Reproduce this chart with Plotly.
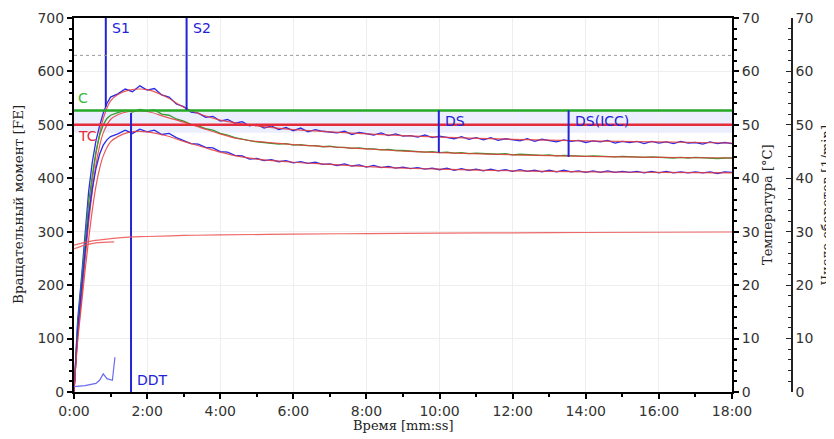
import plotly.graph_objects as go

# ---------------- data ----------------
# time in minutes for the raw (noisy) torque traces
T_RAW = [0, 0.05, 0.1, 0.2, 0.3, 0.4, 0.5, 0.6, 0.7, 0.8, 0.9, 1.0,
         1.2, 1.4, 1.6, 1.8, 2.0, 2.2, 2.4, 2.6, 2.8, 3.0,
         3.2, 3.4, 3.6, 3.8, 4.0, 4.2, 4.4, 4.6, 4.8, 5.0,
         5.2, 5.4, 5.6, 5.8, 6.0, 6.2, 6.4, 6.6, 6.8, 7.0,
         7.2, 7.4, 7.6, 7.8, 8.0, 8.2, 8.4, 8.6, 8.8, 9.0,
         9.2, 9.4, 9.6, 9.8, 10.0, 10.2, 10.4, 10.6, 10.8, 11.0,
         11.2, 11.4, 11.6, 11.8, 12.0, 12.2, 12.4, 12.6, 12.8, 13.0,
         13.2, 13.4, 13.6, 13.8, 14.0, 14.2, 14.4, 14.6, 14.8, 15.0,
         15.2, 15.4, 15.6, 15.8, 16.0, 16.2, 16.4, 16.6, 16.8, 17.0,
         17.2, 17.4, 17.6, 17.8, 18.0]

UPPER_RAW = [0, 70, 135, 210, 290, 375, 430, 470, 498, 522, 540, 552,
             558, 567, 562, 573, 565, 568, 556, 552, 539, 534,
             524, 522, 514, 516, 507, 510, 503, 506, 498, 501,
             494, 498, 491, 495, 489, 494, 487, 491, 488, 486,
             485, 488, 482, 486, 484, 481, 485, 480, 483, 479,
             480, 477, 481, 476, 479, 477, 474, 478, 473, 476,
             472, 476, 471, 474, 472, 470, 474, 469, 473, 471,
             468, 472, 469, 471, 467, 470, 468, 471, 466, 469,
             467, 469, 465, 469, 466, 468, 465, 469, 466, 467,
             464, 468, 465, 467, 465]

MIDDLE_RAW = [0, 60, 125, 200, 280, 355, 405, 450, 480, 500, 512, 518,
              523, 527, 524, 529, 526, 528, 520, 518, 511, 507,
              501, 498, 493, 490, 484, 481, 476, 473, 470, 468,
              467, 466, 464, 465, 462, 463, 461, 461, 459, 460,
              458, 458, 456, 457, 455, 455, 453, 454, 452, 452,
              451, 451, 449, 450, 448, 449, 447, 448, 446, 447,
              446, 446, 445, 446, 444, 445, 444, 444, 443, 444,
              442, 443, 442, 442, 441, 442, 441, 441, 440, 441,
              440, 440, 439, 440, 439, 439, 438, 439, 438, 439,
              438, 438, 437, 438, 438]

LOWER_RAW = [0, 55, 115, 190, 265, 330, 380, 418, 445, 462, 472, 478,
             483, 490, 484, 492, 487, 490, 482, 484, 476, 471,
             465, 464, 458, 457, 450, 449, 443, 442, 436, 437,
             433, 435, 431, 433, 429, 431, 428, 430, 426, 427,
             424, 427, 423, 425, 421, 424, 420, 422, 419, 421,
             418, 420, 417, 419, 416, 419, 415, 418, 415, 417,
             414, 417, 414, 416, 413, 416, 413, 415, 412, 415,
             412, 415, 412, 414, 411, 414, 411, 414, 411, 413,
             411, 413, 410, 413, 410, 413, 410, 412, 410, 412,
             410, 412, 409, 412, 411]

# smoothed (fitted) curves
T_FIT = [0, 0.1, 0.2, 0.3, 0.4, 0.5, 0.6, 0.7, 0.8, 1.0, 1.2, 1.5, 2.0, 2.5,
         3.0, 3.5, 4.0, 4.5, 5.0, 6.0, 7.0, 8.0, 9.0, 10.0, 12.0, 14.0, 16.0, 18.0]
UPPER_FIT = [0, 110, 180, 255, 330, 395, 445, 483, 512, 545, 557, 565, 566, 553,
             533, 519, 509, 503, 498, 491, 487, 483, 480, 477, 473, 470, 468, 466]
MIDDLE_FIT = [0, 100, 170, 245, 315, 375, 425, 460, 485, 510, 519, 525, 525, 515,
              505, 494, 483, 474, 469, 463, 459, 455, 451, 448, 444, 441, 439, 438]
LOWER_FIT = [0, 95, 160, 225, 285, 340, 385, 418, 442, 468, 478, 486, 487, 480,
             469, 459, 449, 441, 436, 430, 426, 422, 419, 417, 414, 412, 411, 410]

# temperatures [°C]
T_TEMP = [0, 0.5, 1.0, 1.5, 2.0, 3.0, 4.0, 6.0, 8.0, 10.0, 12.0, 14.0, 16.0, 18.0]
TEMP_A = [27.5, 28.3, 28.7, 29.0, 29.1, 29.3, 29.4, 29.55, 29.65, 29.75, 29.8, 29.85, 29.9, 29.95]
T_TEMP_B = [0, 0.3, 0.6, 1.1]
TEMP_B = [26.8, 27.5, 27.9, 28.1]

# rotation speed [1/min]
T_SPEED = [0, 18]
SPEED = [63, 63]

# small auxiliary trace near the bottom
T_AUX = [0, 0.3, 0.6, 0.7, 0.8, 0.9, 1.05, 1.12]
AUX = [10, 12, 16, 22, 34, 25, 22, 65]

# reference levels
C_LEVEL = 527
TC_LEVEL = 500
BAND = [485, 527]

# event markers: (label, time, y from, y to)
MARK_LABELS = ["S1", "S2", "DDT", "DS", "DS(ICC)"]
MARK_TIMES = [0.87, 3.08, 1.56, 9.98, 13.53]
MARK_FROM = [534, 528, 0, 448, 440]
MARK_TO = [700, 700, 522, 527, 527]

X_TICKS = [0, 2, 4, 6, 8, 10, 12, 14, 16, 18]
X_TICKTEXT = ["0:00", "2:00", "4:00", "6:00", "8:00", "10:00", "12:00", "14:00", "16:00", "18:00"]

# ---------------- styling ----------------
BLUE = "#2323d6"
RAW_BLUE = "#2b2be8"
RAW_GREEN = "#2f9d2f"
FIT_RED = "rgba(232,60,60,0.85)"
C_GREEN = "#25a825"
TC_RED = "#e52a3a"

OFF = 8                      # page body margin
W, H = 834 - OFF, 439 - OFF
PX_LEFT, PX_RIGHT, PX_TOP, PX_BOTTOM = 74, 792, 18, 392   # window pixels of plot area
L = PX_LEFT - OFF
T = PX_TOP - OFF
R = W - (PX_RIGHT - OFF)
B = H - (PX_BOTTOM - OFF)
plot_w = PX_RIGHT - PX_LEFT
xdom_end = (732 - PX_LEFT) / plot_w

fig = go.Figure()

# raw + fit curves
for raw, fit, col in [(UPPER_RAW, UPPER_FIT, RAW_BLUE),
                      (MIDDLE_RAW, MIDDLE_FIT, RAW_GREEN),
                      (LOWER_RAW, LOWER_FIT, RAW_BLUE)]:
    fig.add_trace(go.Scatter(x=T_RAW, y=raw, mode="lines",
                             line=dict(color=col, width=1.3), hoverinfo="skip"))
    fig.add_trace(go.Scatter(x=T_FIT, y=fit, mode="lines",
                             line=dict(color=FIT_RED, width=1.2, shape="spline"),
                             hoverinfo="skip"))

# temperatures
fig.add_trace(go.Scatter(x=T_TEMP, y=TEMP_A, mode="lines", yaxis="y2",
                         line=dict(color="rgba(235,80,80,0.85)", width=1.2, shape="spline")))
fig.add_trace(go.Scatter(x=T_TEMP_B, y=TEMP_B, mode="lines", yaxis="y2",
                         line=dict(color="rgba(235,80,80,0.85)", width=1.2, shape="spline")))
# speed
fig.add_trace(go.Scatter(x=T_SPEED, y=SPEED, mode="lines", yaxis="y3",
                         line=dict(color="#9a9a9a", width=1, dash="dot")))
# aux
fig.add_trace(go.Scatter(x=T_AUX, y=AUX, mode="lines",
                         line=dict(color="#6a6af0", width=1.2)))

# reference levels
fig.add_trace(go.Scatter(x=[0, 18], y=[C_LEVEL, C_LEVEL], mode="lines",
                         line=dict(color=C_GREEN, width=2.5)))
fig.add_trace(go.Scatter(x=[0, 18], y=[TC_LEVEL, TC_LEVEL], mode="lines",
                         line=dict(color=TC_RED, width=2.5)))

# event markers
for lab, t, y0, y1 in zip(MARK_LABELS, MARK_TIMES, MARK_FROM, MARK_TO):
    fig.add_trace(go.Scatter(x=[t, t], y=[y0, y1], mode="lines",
                             line=dict(color=BLUE, width=2)))

label_font = dict(family="DejaVu Sans", size=14)
annotations = []
label_y = {"S1": 681, "S2": 681, "DDT": 22, "DS": 508, "DS(ICC)": 508}
for lab, t in zip(MARK_LABELS, MARK_TIMES):
    annotations.append(dict(x=t, y=label_y[lab], xref="x", yref="y", text=lab,
                            showarrow=False, xanchor="left", yanchor="middle",
                            xshift=4, font=dict(color=BLUE, **label_font)))
annotations.append(dict(x=0, y=C_LEVEL, xref="x", yref="y", text="C", showarrow=False,
                        xanchor="left", yanchor="bottom", xshift=2, yshift=2,
                        font=dict(color="#36b836", **label_font)))
annotations.append(dict(x=0, y=TC_LEVEL, xref="x", yref="y", text="TC", showarrow=False,
                        xanchor="left", yanchor="top", xshift=2, yshift=-1,
                        font=dict(color=TC_RED, **label_font)))

title_font = dict(family="DejaVu Serif", size=13, color="#222")
annotations += [
    dict(x=0, y=0.5, xref="paper", yref="paper", text="Вращательный момент [FE]",
         textangle=-90, showarrow=False, xanchor="center", yanchor="middle",
         xshift=18 - PX_LEFT,
         font=dict(family="DejaVu Serif", size=13.5, color="#222")),
    dict(x=0, y=0.5, xref="paper", yref="paper", text="Температура [°C]",
         textangle=-90, showarrow=False, xanchor="center", yanchor="middle",
         xshift=767 - PX_LEFT, font=title_font),
    dict(x=0, y=0.5, xref="paper", yref="paper", text="Число оборотов [1/min]",
         textangle=-90, showarrow=False, xanchor="center", yanchor="middle",
         xshift=826 - PX_LEFT, font=title_font),
    dict(x=0, y=0, xref="paper", yref="paper", text="Время [mm:ss]",
         showarrow=False, xanchor="center", yanchor="middle",
         xshift=403 - PX_LEFT, yshift=-(425 - PX_BOTTOM), font=title_font),
]

tick_font = dict(family="DejaVu Sans", size=14, color="#333")
axis_common = dict(showline=True, linecolor="black", linewidth=2, ticks="outside",
                   ticklen=5, tickwidth=1.5, tickcolor="black", zeroline=False,
                   tickfont=tick_font, automargin=False)

fig.update_layout(
    template="none",
    width=W, height=H,
    margin=dict(l=L, r=R, t=T, b=B),
    paper_bgcolor="white", plot_bgcolor="white",
    showlegend=False,
    shapes=[dict(type="rect", xref="x", yref="y", x0=0, x1=18, y0=BAND[0], y1=BAND[1],
                 fillcolor="#ebeefc", line=dict(width=0), layer="below")],
    annotations=annotations,
    xaxis=dict(domain=[0, xdom_end], range=[0, 18], tickvals=X_TICKS, ticktext=X_TICKTEXT,
               mirror=True, showgrid=True, gridcolor="#eeeeee", gridwidth=1,
               minor=dict(dtick=1, ticks="outside", ticklen=3, tickcolor="black", showgrid=False),
               **axis_common),
    yaxis=dict(range=[0, 700], dtick=100, showgrid=True, gridcolor="#eeeeee", gridwidth=1,
               minor=dict(dtick=20, ticks="outside", ticklen=3, tickcolor="black", showgrid=False),
               **axis_common),
    yaxis2=dict(range=[0, 70], dtick=10, overlaying="y", side="right", anchor="x",
                showgrid=False,
                minor=dict(dtick=2, ticks="outside", ticklen=3, tickcolor="black"),
                **axis_common),
    yaxis3=dict(range=[0, 70], dtick=10, overlaying="y", side="right", anchor="free",
                position=1.0, showgrid=False, showline=True, linecolor="#222", linewidth=1.5,
                ticks="inside", ticklen=5, tickwidth=1.2, tickcolor="#222", zeroline=False,
                tickfont=tick_font, automargin=False,
                minor=dict(dtick=2, ticks="inside", ticklen=3, tickcolor="#222")),
)

fig.write_html("out.html")
